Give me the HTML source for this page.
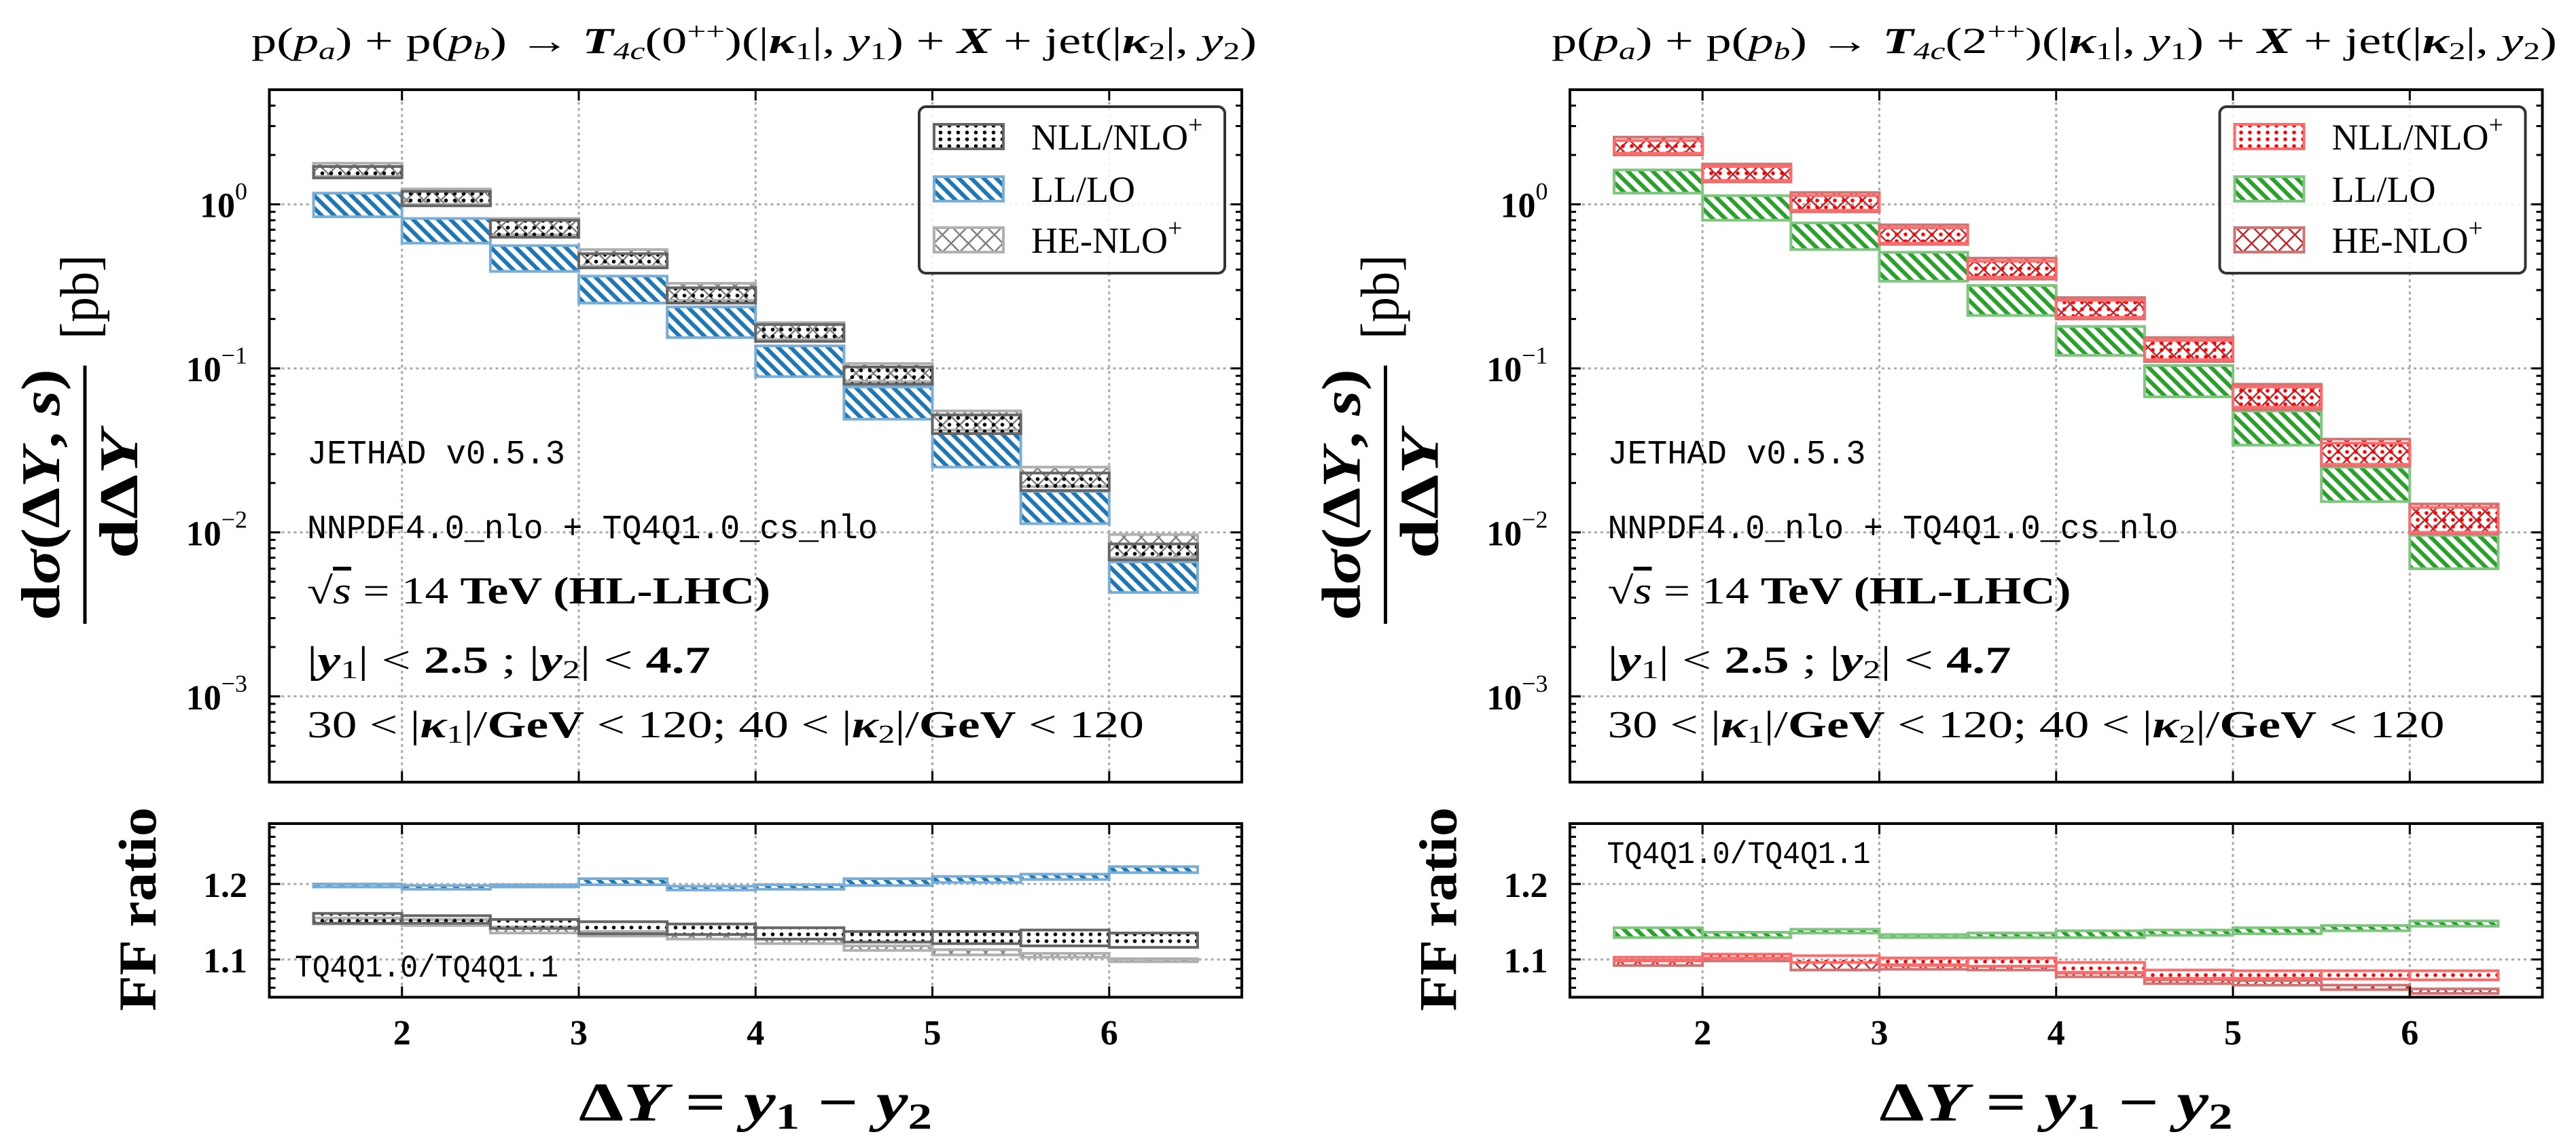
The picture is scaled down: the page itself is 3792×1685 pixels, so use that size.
<!DOCTYPE html>
<html><head><meta charset="utf-8"><style>
html,body{margin:0;padding:0;background:#fff;}
svg{display:block;}
.serif{font-family:"Liberation Serif",serif;}
.mono{font-family:"Liberation Mono",monospace;}
</style></head><body>
<svg id="fig" width="3792" height="1685" viewBox="0 0 3792 1685" xmlns="http://www.w3.org/2000/svg">
<defs>
<pattern id="hatch-blue" patternUnits="userSpaceOnUse" width="13" height="13" patternTransform="rotate(-45)"><rect width="13" height="13" fill="#fff"/><line x1="6.5" y1="0" x2="6.5" y2="13" stroke="#1f77b4" stroke-width="6"/></pattern>
<pattern id="hatch-green" patternUnits="userSpaceOnUse" width="13" height="13" patternTransform="rotate(-45)"><rect width="13" height="13" fill="#fff"/><line x1="6.5" y1="0" x2="6.5" y2="13" stroke="#2ca02c" stroke-width="6"/></pattern>
<pattern id="dots-black" patternUnits="userSpaceOnUse" width="13" height="10"><circle cx="6.5" cy="5" r="2.8" fill="#000"/></pattern>
<pattern id="dots-red" patternUnits="userSpaceOnUse" width="13" height="10"><circle cx="6.5" cy="5" r="2.8" fill="#f00"/></pattern>
<pattern id="xh-gray" patternUnits="userSpaceOnUse" width="18" height="18" patternTransform="rotate(45)"><line x1="0" y1="0" x2="0" y2="18" stroke="#808080" stroke-width="5"/><line x1="0" y1="0" x2="18" y2="0" stroke="#808080" stroke-width="5"/></pattern>
<pattern id="xh-red" patternUnits="userSpaceOnUse" width="18" height="18" patternTransform="rotate(45)"><line x1="0" y1="0" x2="0" y2="18" stroke="#c0272d" stroke-width="5"/><line x1="0" y1="0" x2="18" y2="0" stroke="#c0272d" stroke-width="5"/></pattern>
</defs>

<g>
<text class="serif" x="370" y="78" font-size="54" textLength="1480" lengthAdjust="spacingAndGlyphs">p(<tspan font-style="italic">p</tspan><tspan font-size="36" font-style="italic" dy="9">a</tspan><tspan dy="-9">) + p(</tspan><tspan font-style="italic">p</tspan><tspan font-size="36" font-style="italic" dy="9">b</tspan><tspan dy="-9">) → </tspan><tspan font-style="italic" font-weight="bold">T</tspan><tspan font-size="36" dy="9" font-style="italic">4c</tspan><tspan dy="-9">(0</tspan><tspan font-size="36" dy="-20">++</tspan><tspan dy="20">)(|</tspan><tspan font-weight="bold" font-style="italic">κ</tspan><tspan font-size="36" dy="9">1</tspan><tspan dy="-9">|, </tspan><tspan font-style="italic">y</tspan><tspan font-size="36" dy="9">1</tspan><tspan dy="-9">) + </tspan><tspan font-weight="bold" font-style="italic">X</tspan><tspan> + jet(|</tspan><tspan font-weight="bold" font-style="italic">κ</tspan><tspan font-size="36" dy="9">2</tspan><tspan dy="-9">|, </tspan><tspan font-style="italic">y</tspan><tspan font-size="36" dy="9">2</tspan><tspan dy="-9">)</tspan></text>
</g>
<g>
<text class="serif" x="2284" y="78" font-size="54" textLength="1480" lengthAdjust="spacingAndGlyphs">p(<tspan font-style="italic">p</tspan><tspan font-size="36" font-style="italic" dy="9">a</tspan><tspan dy="-9">) + p(</tspan><tspan font-style="italic">p</tspan><tspan font-size="36" font-style="italic" dy="9">b</tspan><tspan dy="-9">) → </tspan><tspan font-style="italic" font-weight="bold">T</tspan><tspan font-size="36" dy="9" font-style="italic">4c</tspan><tspan dy="-9">(2</tspan><tspan font-size="36" dy="-20">++</tspan><tspan dy="20">)(|</tspan><tspan font-weight="bold" font-style="italic">κ</tspan><tspan font-size="36" dy="9">1</tspan><tspan dy="-9">|, </tspan><tspan font-style="italic">y</tspan><tspan font-size="36" dy="9">1</tspan><tspan dy="-9">) + </tspan><tspan font-weight="bold" font-style="italic">X</tspan><tspan> + jet(|</tspan><tspan font-weight="bold" font-style="italic">κ</tspan><tspan font-size="36" dy="9">2</tspan><tspan dy="-9">|, </tspan><tspan font-style="italic">y</tspan><tspan font-size="36" dy="9">2</tspan><tspan dy="-9">)</tspan></text>
</g>
<g id="panels"></g>
</svg>
<script>
const binLo = [1.5,2.0,2.5,3.0,3.5,4.0,4.5,5.0,5.5,6.0];
const binHi = [2.0,2.5,3.0,3.5,4.0,4.5,5.0,5.5,6.0,6.5];
const xTicks = [2,3,4,5,6];
const yMainTicks = [0,-1,-2,-3];
const yRatioTicks = [1.1,1.2];

const L_nllHi = [1.70,1.20,0.80,0.50,0.31,0.185,0.102,0.052,0.023,0.0085];
const L_nllLo = [1.45,0.98,0.63,0.41,0.25,0.146,0.080,0.040,0.018,0.0068];
const L_heHi  = [1.78,1.24,0.82,0.53,0.33,0.19,0.107,0.055,0.025,0.0097];
const L_heLo  = [1.48,1.00,0.65,0.42,0.26,0.150,0.083,0.042,0.019,0.0070];
const L_llHi  = [1.17,0.82,0.56,0.365,0.237,0.137,0.077,0.040,0.0178,0.0066];
const L_llLo  = [0.84,0.58,0.39,0.25,0.154,0.089,0.049,0.025,0.0113,0.0043];
const LR_llLo  = [1.196,1.193,1.196,1.199,1.192,1.193,1.198,1.202,1.206,1.215];
const LR_llHi  = [1.200,1.198,1.199,1.207,1.197,1.199,1.207,1.210,1.213,1.223];
const LR_nllLo = [1.148,1.148,1.141,1.134,1.133,1.127,1.123,1.121,1.118,1.116];
const LR_nllHi = [1.161,1.158,1.153,1.150,1.147,1.142,1.137,1.137,1.139,1.135];
const LR_heLo  = [1.147,1.145,1.135,1.131,1.127,1.121,1.112,1.106,1.103,1.097];
const LR_heHi  = [1.155,1.153,1.143,1.137,1.133,1.127,1.118,1.113,1.108,1.101];

const R_nllHi = [2.45,1.70,1.13,0.72,0.45,0.26,0.148,0.077,0.035,0.0142];
const R_nllLo = [2.05,1.40,0.92,0.58,0.36,0.205,0.113,0.058,0.026,0.0100];
const R_heHi  = [2.57,1.76,1.18,0.75,0.47,0.27,0.154,0.080,0.037,0.0149];
const R_heLo  = [2.00,1.37,0.90,0.57,0.35,0.20,0.110,0.056,0.0255,0.0098];
const R_llHi  = [1.62,1.13,0.77,0.51,0.32,0.18,0.104,0.055,0.025,0.0096];
const R_llLo  = [1.17,0.80,0.53,0.34,0.21,0.12,0.067,0.034,0.0154,0.0060];
const RR_llLo  = [1.129,1.129,1.135,1.129,1.129,1.129,1.132,1.134,1.138,1.144];
const RR_llHi  = [1.142,1.136,1.140,1.133,1.135,1.138,1.139,1.142,1.145,1.151];
const RR_nllLo = [1.098,1.102,1.096,1.092,1.091,1.083,1.075,1.075,1.074,1.073];
const RR_nllHi = [1.103,1.107,1.105,1.102,1.102,1.096,1.086,1.085,1.085,1.085];
const RR_heLo  = [1.092,1.098,1.086,1.087,1.086,1.077,1.068,1.066,1.060,1.055];
const RR_heHi  = [1.099,1.102,1.096,1.093,1.091,1.082,1.073,1.072,1.066,1.061];

const NS = "http://www.w3.org/2000/svg";
function mk(tag, attrs, parent){const e=document.createElementNS(NS,tag);for(const k in attrs)e.setAttribute(k,attrs[k]);parent.appendChild(e);return e;}

const X0=396.5, X1=1828, XMIN=1.25, XMAX=6.75;
const MT=132, MB=1151, LOGMAX=Math.log10(5), LOGMIN=Math.log10(3e-4);
const RT=1212, RB=1467.5, RMAX=1.28, RMIN=1.05;
function xs(v){return X0+(v-XMIN)/(XMAX-XMIN)*(X1-X0);}
function ysM(v){return MT+(LOGMAX-Math.log10(v))/(LOGMAX-LOGMIN)*(MB-MT);}
function ysR(v){return RT+(RMAX-v)/(RMAX-RMIN)*(RB-RT);}

function bands(g, lo, hi, ys, fill, stroke, sw, name){
  for(let i=0;i<binLo.length;i++){
    const xa=xs(binLo[i]), xb=xs(binHi[i]), ya=ys(hi[i]), yb=ys(lo[i]);
    const r=mk('rect',{x:xa,y:ya,width:xb-xa,height:Math.max(yb-ya,1),fill:fill,stroke:stroke,'stroke-width':sw},g);
    
    
  }
}

function panel(dx, side, main, ratio, col){
  const g=mk('g',{transform:'translate('+dx+',0)'},document.getElementById('panels'));
  
  
  const grid=mk('g',{stroke:'#aaa','stroke-width':3,'stroke-dasharray':'4 5'},g);
  
  
  xTicks.forEach(t=>{mk('line',{x1:xs(t),x2:xs(t),y1:MT,y2:MB},grid);mk('line',{x1:xs(t),x2:xs(t),y1:RT,y2:RB},grid);});
  yMainTicks.forEach(p=>mk('line',{x1:X0,x2:X1,y1:ysM(Math.pow(10,p)),y2:ysM(Math.pow(10,p))},grid));
  yRatioTicks.forEach(v=>mk('line',{x1:X0,x2:X1,y1:ysR(v),y2:ysR(v)},grid));
  bands(g, main.llLo, main.llHi, ysM, col.llFill, col.llStroke, 4, side+'-ll-lo');
  bands(g, main.heLo, main.heHi, ysM, col.heFill, col.heStroke, 4, side+'-he-nlo');
  bands(g, main.nllLo, main.nllHi, ysM, col.nllFill, col.nllStroke, 4, side+'-nll-nlo');
  bands(g, ratio.llLo, ratio.llHi, ysR, col.llFill, col.llStroke, 4, side+'-ratio-ll-lo');
  bands(g, ratio.heLo, ratio.heHi, ysR, col.heFill, col.heStroke, 4, side+'-ratio-he-nlo');
  bands(g, ratio.nllLo, ratio.nllHi, ysR, col.nllFill, col.nllStroke, 4, side+'-ratio-nll-nlo');
  const tk=mk('g',{stroke:'#000','stroke-width':3},g);
  
  
  xTicks.forEach(t=>{[[MT,1],[MB,-1],[RT,1],[RB,-1]].forEach(([y,d])=>mk('line',{x1:xs(t),x2:xs(t),y1:y,y2:y+d*16},tk));});
  for(let p=-4;p<=0;p++){for(let m=1;m<10;m++){const v=m*Math.pow(10,p);const y=ysM(v);if(y<MT||y>MB)continue;const L=m==1?16:9;
    mk('line',{x1:X0,x2:X0+L,y1:y,y2:y},tk);mk('line',{x1:X1,x2:X1-L,y1:y,y2:y},tk);}}
  for(let v=1.05;v<=1.28;v+=0.0125){const y=ysR(v);const maj=Math.abs(v*10-Math.round(v*10))<0.001;const L=maj?16:9;
    mk('line',{x1:X0,x2:X0+L,y1:y,y2:y},tk);mk('line',{x1:X1,x2:X1-L,y1:y,y2:y},tk);}
  const f1=mk('rect',{x:X0,y:MT,width:X1-X0,height:MB-MT,fill:'none',stroke:'#000','stroke-width':4},g);
  
  
  const f2=mk('rect',{x:X0,y:RT,width:X1-X0,height:RB-RT,fill:'none',stroke:'#000','stroke-width':4},g);
  
  
  xTicks.forEach(t=>{const e=mk('text',{x:xs(t),y:1537,'text-anchor':'middle','font-size':52,'font-weight':'bold',class:'serif'},g);e.textContent=t;
    
    });
  yMainTicks.forEach(p=>{const e=mk('text',{x:364,y:ysM(Math.pow(10,p))+19,'text-anchor':'end','font-size':52,'font-weight':'bold',class:'serif'},g);
    e.innerHTML='10<tspan font-size="36" font-weight="normal" dy="-26">'+(p==0?'0':'−'+(-p))+'</tspan>';
    
    });
  yRatioTicks.forEach(v=>{const e=mk('text',{x:364,y:ysR(v)+19,'text-anchor':'end','font-size':52,'font-weight':'bold',class:'serif'},g);e.textContent=v.toFixed(1);
    
    });
  const lg=mk('g',{},g);
  
  
  mk('rect',{x:1353,y:157,width:450,height:245,rx:10,fill:'rgba(255,255,255,0.85)',stroke:'#333','stroke-width':4},lg);
  const ent=[[col.nllFill,col.nllStroke,'NLL/NLO','+',183],[col.llFill,col.llStroke,'LL/LO','',260],[col.heFill,col.heStroke,'HE-NLO','+',335]];
  ent.forEach(([fi,st,lab,sup,y])=>{
    const r=mk('rect',{x:1375,y:y,width:102,height:36,fill:fi,stroke:st,'stroke-width':4},lg);
    
    
    const t=mk('text',{x:1518,y:y+37,'font-size':54,class:'serif'},lg);
    t.innerHTML=lab+(sup?'<tspan font-size="38" dy="-24">'+sup+'</tspan>':'');
    
    
  });
  const an=mk('g',{},g);
  
  
  an.innerHTML=
   '<text class="mono" x="452" y="682" font-size="50" textLength="380" lengthAdjust="spacingAndGlyphs">JETHAD v0.5.3</text>'+
   '<text class="mono" x="452" y="792" font-size="50" textLength="840" lengthAdjust="spacingAndGlyphs">NNPDF4.0_nlo + TQ4Q1.0_cs_nlo</text>'+
   '<text class="serif" x="452" y="888" font-size="56" textLength="682" lengthAdjust="spacingAndGlyphs">√<tspan font-style="italic" text-decoration="overline">s</tspan> = 14 <tspan font-weight="bold">TeV (HL-LHC)</tspan></text>'+
   '<text class="serif" x="452" y="990" font-size="56" textLength="594" lengthAdjust="spacingAndGlyphs">|<tspan font-style="italic" font-weight="bold">y</tspan><tspan font-size="38" dy="8">1</tspan><tspan dy="-8">| &lt; </tspan><tspan font-weight="bold">2.5</tspan> ;  |<tspan font-style="italic" font-weight="bold">y</tspan><tspan font-size="38" dy="8">2</tspan><tspan dy="-8">| &lt; </tspan><tspan font-weight="bold">4.7</tspan></text>'+
   '<text class="serif" x="452" y="1085" font-size="56" textLength="1232" lengthAdjust="spacingAndGlyphs">30 &lt; |<tspan font-weight="bold" font-style="italic">κ</tspan><tspan font-size="38" dy="8">1</tspan><tspan dy="-8">|/<tspan font-weight="bold">GeV</tspan> &lt; 120;  40 &lt; |</tspan><tspan font-weight="bold" font-style="italic">κ</tspan><tspan font-size="38" dy="8">2</tspan><tspan dy="-8">|/<tspan font-weight="bold">GeV</tspan> &lt; 120</tspan></text>'+
   '<text class="mono" x="'+(side=='left'?434:451)+'" y="'+(side=='left'?1437:1270)+'" font-size="46" textLength="388" lengthAdjust="spacingAndGlyphs">TQ4Q1.0/TQ4Q1.1</text>';
  const yl=mk('g',{transform:'translate(125,728) rotate(-90)'},g);
  
  
  yl.innerHTML='<text class="serif" x="0" y="-38" text-anchor="middle" font-size="80" font-weight="bold" textLength="370" lengthAdjust="spacingAndGlyphs">d<tspan font-style="italic">σ</tspan>(Δ<tspan font-style="italic">Y</tspan>, <tspan font-style="italic">s</tspan>)</text>'+
   '<line x1="-190" x2="190" y1="0" y2="0" stroke="#000" stroke-width="5"/>'+
   '<text class="serif" x="0" y="77" text-anchor="middle" font-size="80" font-weight="bold" textLength="188" lengthAdjust="spacingAndGlyphs">dΔ<tspan font-style="italic">Y</tspan></text>'+
   '<text class="serif" x="291" y="19" text-anchor="middle" font-size="80" textLength="124" lengthAdjust="spacingAndGlyphs">[pb]</text>';
  const fr=mk('text',{transform:'translate(203,1338) rotate(-90)',x:0,y:26,'text-anchor':'middle','font-size':78,'font-weight':'bold',class:'serif',textLength:300,lengthAdjust:'spacingAndGlyphs'},g);
  fr.textContent='FF ratio';
  
  
  const xl=mk('text',{x:1112,y:1649,'text-anchor':'middle','font-size':80,'font-weight':'bold',class:'serif',textLength:520,lengthAdjust:'spacingAndGlyphs'},g);
  xl.innerHTML='Δ<tspan font-style="italic">Y</tspan> = <tspan font-style="italic">y</tspan><tspan font-size="54" dy="12">1</tspan><tspan dy="-12"> − </tspan><tspan font-style="italic">y</tspan><tspan font-size="54" dy="12">2</tspan>';
  
  
}

panel(0,'left',
 {nllLo:L_nllLo,nllHi:L_nllHi,heLo:L_heLo,heHi:L_heHi,llLo:L_llLo,llHi:L_llHi},
 {nllLo:LR_nllLo,nllHi:LR_nllHi,heLo:LR_heLo,heHi:LR_heHi,llLo:LR_llLo,llHi:LR_llHi},
 {nllFill:'url(#dots-black)',nllStroke:'#666',heFill:'url(#xh-gray)',heStroke:'#b0b0b0',llFill:'url(#hatch-blue)',llStroke:'#7aaed6'});
panel(1914.5,'right',
 {nllLo:R_nllLo,nllHi:R_nllHi,heLo:R_heLo,heHi:R_heHi,llLo:R_llLo,llHi:R_llHi},
 {nllLo:RR_nllLo,nllHi:RR_nllHi,heLo:RR_heLo,heHi:RR_heHi,llLo:RR_llLo,llHi:RR_llHi},
 {nllFill:'url(#dots-red)',nllStroke:'#ff6b6b',heFill:'url(#xh-red)',heStroke:'#d07474',llFill:'url(#hatch-green)',llStroke:'#80c680'});
</script>
</body></html>
